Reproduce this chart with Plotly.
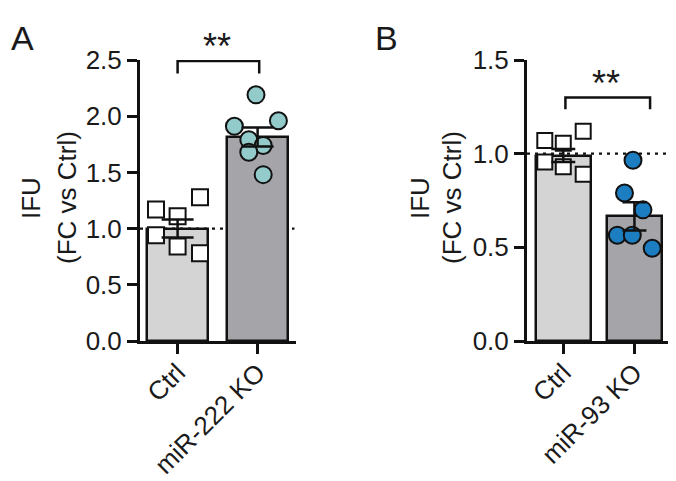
import plotly.graph_objects as go

# ---------------- data ----------------
categories_a = ["Ctrl", "miR-222 KO"]
categories_b = ["Ctrl", "miR-93 KO"]

a_ctrl = [1.17, 1.11, 1.28, 0.94, 0.84, 0.78]
a_ctrl_jitter = [-0.27, 0.0, 0.28, -0.27, 0.0, 0.28]
a_ko = [2.19, 1.91, 1.96, 1.79, 1.74, 1.68, 1.48]
a_ko_jitter = [-0.02, -0.29, 0.26, -0.11, 0.07, -0.11, 0.07]
a_means = [1.0, 1.815]
a_sem = [0.08, 0.085]

b_ctrl = [1.07, 1.055, 1.12, 0.955, 0.93, 0.89]
b_ctrl_jitter = [-0.26, 0.0, 0.28, -0.26, 0.0, 0.28]
b_ko = [0.965, 0.79, 0.70, 0.565, 0.565, 0.495]
b_ko_jitter = [-0.02, -0.14, 0.12, -0.24, -0.03, 0.25]
b_means = [0.99, 0.665]
b_sem = [0.035, 0.075]

ticks_a = [0, 0.5, 1.0, 1.5, 2.0, 2.5]
ticks_b = [0, 0.5, 1.0, 1.5]

sig_a = {"x": [0, 1.02], "y_top": 2.49, "y_bot": 2.38, "label": "**"}
sig_b = {"x": [0.03, 1.22], "y_top": 1.30, "y_bot": 1.237, "label": "**"}

# ---------------- styles ----------------
FONT = "Liberation Sans, Arial, sans-serif"
TXT = "#1a1a1a"
CTRL_BAR = "#d4d4d4"
KO_BAR = "#a4a4a9"
TEAL = "#93caca"
BLUE = "#1c7dc1"

# page body has an 8px margin: size figure so it fits the 676x481 window
OFF = 8
W, H = 676 - OFF, 481 - OFF


def px(x):
    return (x - OFF) / W


def py(y):
    return (481 - y) / H


fig = go.Figure()


def add_panel(xa, ctrl, ctrl_j, ko, ko_j, means, sem, bar_w, ko_color,
              sq_size, c_size, cap, sig, dot_end):
    xr = "x" if xa == 1 else f"x{xa}"
    yr = "y" if xa == 1 else f"y{xa}"
    fig.add_trace(go.Bar(
        x=[0, 1], y=means, width=bar_w, xaxis=xr, yaxis=yr,
        marker=dict(color=[CTRL_BAR, KO_BAR], line=dict(color="#111", width=2.5)),
        showlegend=False, hoverinfo="skip"))
    fig.add_trace(go.Scatter(
        x=[0 + j for j in ctrl_j], y=ctrl, xaxis=xr, yaxis=yr, mode="markers",
        marker=dict(symbol="square", size=sq_size, color="white",
                    line=dict(color="#111", width=2)),
        showlegend=False, cliponaxis=False))
    fig.add_trace(go.Scatter(
        x=[1 + j for j in ko_j], y=ko, xaxis=xr, yaxis=yr, mode="markers",
        marker=dict(symbol="circle", size=c_size, color=ko_color,
                    line=dict(color="#111", width=2)),
        showlegend=False, cliponaxis=False))
    fig.add_trace(go.Scatter(
        x=[0, 1], y=means, xaxis=xr, yaxis=yr, mode="markers",
        marker=dict(size=1, opacity=0),
        error_y=dict(type="data", array=sem, color="#111", thickness=2.5, width=cap),
        showlegend=False, hoverinfo="skip", cliponaxis=False))
    x0, x1 = sig["x"]
    fig.add_trace(go.Scatter(
        x=[x0, x0, x1, x1], y=[sig["y_bot"], sig["y_top"], sig["y_top"], sig["y_bot"]],
        xaxis=xr, yaxis=yr, mode="lines", line=dict(color="#111", width=2.5),
        showlegend=False, hoverinfo="skip", cliponaxis=False))
    fig.add_shape(type="line", xref=f"{xr} domain", yref=yr, x0=0, x1=dot_end, y0=1, y1=1,
                  line=dict(color="#111", width=2.2, dash="3px,5px"), layer="below")


add_panel(1, a_ctrl, a_ctrl_jitter, a_ko, a_ko_jitter, a_means, a_sem,
          0.76, TEAL, 16, 17, 16, sig_a, 0.99)
add_panel(2, b_ctrl, b_ctrl_jitter, b_ko, b_ko_jitter, b_means, b_sem,
          0.775, BLUE, 15, 17, 12, sig_b, 1.02)

axis_common = dict(showline=True, linecolor="#111", linewidth=3, ticks="outside",
                   ticklen=10, tickwidth=2.5, tickcolor="#111", showgrid=False,
                   zeroline=False, automargin=False,
                   tickfont=dict(family=FONT, size=26, color=TXT))

ydom = [py(341), py(60)]

fig.update_layout(
    width=W, height=H,
    margin=dict(l=0, r=0, t=0, b=0, pad=0),
    paper_bgcolor="white", plot_bgcolor="white",
    bargap=0,
    xaxis=dict(domain=[px(140), px(296)], range=[-0.47, 1.48], anchor="y",
               tickvals=[0, 1], ticktext=categories_a, tickangle=-45,
               ticklabelstandoff=-7, **axis_common),
    yaxis=dict(domain=ydom, range=[0, 2.5], anchor="x", tickvals=ticks_a,
               tickformat=".1f", **axis_common),
    xaxis2=dict(domain=[px(527), px(670)], range=[-0.51, 1.5], anchor="y2",
                tickvals=[0, 1], ticktext=categories_b, tickangle=-45,
                ticklabelstandoff=-7, **axis_common),
    yaxis2=dict(domain=ydom, range=[0, 1.5], anchor="x2", tickvals=ticks_b,
                tickformat=".1f", **axis_common),
)

ann_font = dict(family=FONT, size=26, color=TXT)
anns = [
    dict(text="A", x=px(22), y=py(38), font=dict(family=FONT, size=34, color=TXT)),
    dict(text="B", x=px(387), y=py(38), font=dict(family=FONT, size=34, color=TXT)),
    dict(text="IFU", x=px(31), y=py(198), textangle=-90, font=ann_font),
    dict(text="(FC vs Ctrl)", x=px(67), y=py(198), textangle=-90, font=ann_font),
    dict(text="IFU", x=px(420), y=py(198), textangle=-90, font=ann_font),
    dict(text="(FC vs Ctrl)", x=px(452), y=py(198), textangle=-90, font=ann_font),
    dict(text=sig_a["label"], x=px(217), y=py(46), font=dict(family=FONT, size=36, color=TXT)),
    dict(text=sig_b["label"], x=px(606), y=py(83), font=dict(family=FONT, size=36, color=TXT)),
]
for a in anns:
    fig.add_annotation(xref="paper", yref="paper", showarrow=False,
                       xanchor="center", yanchor="middle", **a)

fig.write_html("out.html")
